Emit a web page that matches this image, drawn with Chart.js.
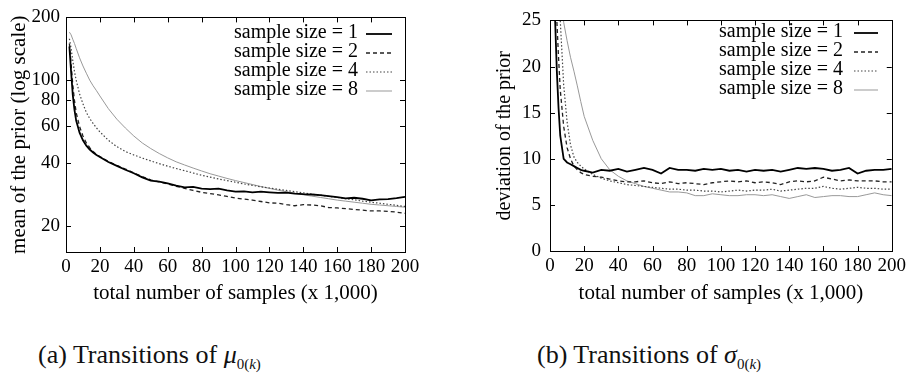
<!DOCTYPE html>
<html>
<head>
<meta charset="utf-8">
<script src="https://cdn.jsdelivr.net/npm/chart.js@4"></script>
<style>
  body { margin:0; background:#fff; width:910px; height:391px; overflow:hidden; position:relative; font-family:"Liberation Serif","Times New Roman","DejaVu Serif",serif; }
  canvas { position:absolute; top:0; }
  #cMean { left:0; }
  #cDev { left:450px; }
  .cap { position:absolute; top:340px; font-size:26px; color:#111; white-space:nowrap; font-family:"Liberation Serif","Times New Roman","DejaVu Serif",serif; }
  .cap sub { font-size:15px; vertical-align:-6px; }
</style>
</head>
<body>
<canvas id="cMean" width="430" height="310"></canvas>
<canvas id="cDev" width="460" height="310"></canvas>
<div class="cap" style="left:38px">(a) Transitions of <i>μ</i><sub>0(<i>k</i>)</sub></div>
<div class="cap" style="left:537px">(b) Transitions of <i>σ</i><sub>0(<i>k</i>)</sub></div>
<script>
// total number of samples (x 1,000)
const samples = [2,3,4,5,6,8,10,12,14,16,18,20,25,30,35,40,45,50,55,60,65,70,75,80,85,90,95,100,105,110,115,120,125,130,135,140,145,150,155,160,165,170,175,180,185,190,195,200];
const sizeLabels = ['sample size = 1','sample size = 2','sample size = 4','sample size = 8'];

// (a) mean of the prior, log scale
const mean1 = [145,110,85,72,64,56,51.5,48.5,46.5,45,43.8,42.8, 40.5,38.8,37.2,35.8,34.2,33,32.6,32,31.2,30.6,30.8,30.2, 30,30.2,29.6,29.2,29.3,29,29.2,29,28.8,28.9,28.6,28.4, 28.3,28.1,27.8,27.5,27.1,27.3,27,26.5,26.8,26.9,27.2,27.6];
const mean2 = [150,120,95,80,70,60,54,50,47.5,45.5,44,43, 40.8,39,37.5,35.9,34.5,33.3,32.5,31.8,31,30.3,29.6,29, 28.6,28.2,27.7,27.2,26.9,26.6,26.2,25.8,25.7,25.3,25,25.3, 25.2,25,24.5,24.4,24.2,24,23.8,23.6,23.6,23.5,23.3,23.0];
const mean4 = [158,142,124,110,100,86,77,70,65.5,62,59,56.5, 51.5,48,45.5,43.8,42.3,41,39.8,38.7,37.7,36.8,35.9,35, 34.3,33.6,33,32.4,31.8,31.3,30.8,30.4,30,29.6,29.2,28.8, 28.4,28.1,27.7,27.4,27,26.7,26.3,26,25.7,25.4,25.1,24.8];
const mean8 = [170,165,157,150,142,128,117,108,100,94,89,84, 73,65,59,54,50,47,44.5,42.4,40.6,39.2,37.9,36.7, 35.6,34.7,33.8,33,32.3,31.6,30.9,30.3,29.7,29.2,28.7,28.2, 27.8,27.4,27,26.6,26.3,26,25.7,25.4,25.2,25,24.8,24.6];
const meanTicks = [20,40,60,80,100,200];

// (b) deviation of the prior
const dev1 = [32,25,19.5,15.5,12.5,10.0,9.6,9.4,9.2,9.0,8.8,8.7, 8.5,8.8,8.7,8.9,8.6,8.8,9.0,8.8,8.4,9.0,8.8,8.8, 8.7,8.9,8.8,8.9,8.7,8.8,8.6,8.8,8.7,8.8,8.6,8.8, 9.0,8.9,9.0,8.9,8.7,8.8,9.0,8.4,8.7,8.8,8.8,8.9];
const dev2 = [40,31,25,21,17.5,13.5,11.2,10.0,9.2,8.8,8.5,8.3, 8.1,8.0,7.8,7.6,7.5,7.5,7.6,7.4,7.3,7.5,7.3,7.4, 7.3,7.2,7.4,7.5,7.6,7.5,7.6,7.4,7.5,7.4,7.2,7.5, 7.6,7.5,7.6,8.0,7.8,7.6,7.7,7.6,7.6,7.6,7.5,7.5];
const dev4 = [50,40,33,29,25,18,14,11.5,10.2,9.6,9.2,8.9, 8.3,7.9,7.6,7.4,7.2,7.1,7.0,6.9,6.8,6.7,6.7,6.6, 6.6,6.5,6.5,6.4,6.5,6.6,6.5,6.6,6.6,6.7,6.5,6.6, 6.7,6.8,6.8,7.0,6.8,6.7,6.8,6.9,6.8,6.8,6.7,6.7];
const dev8 = [60,50,42,35,30,24.8,22.8,21,19.5,17.9,16.2,14.6, 12,10,8.8,8.1,7.6,7.3,7.0,6.8,6.6,6.4,6.4,6.3, 6.0,6.0,6.2,6.1,6.0,6.0,6.1,6.1,6.0,6.1,5.9,5.7, 5.9,6.1,5.8,5.9,6.0,6.0,5.9,5.9,6.1,6.3,6.1,6.0];

const SERIF = '"Liberation Serif", "Times New Roman", "DejaVu Serif", serif';
Chart.defaults.font.family = SERIF;
Chart.defaults.color = '#000';

const styles = [
  { borderColor:'#000', borderWidth:1.8, borderDash:[] },
  { borderColor:'#222', borderWidth:1.3, borderDash:[4,3] },
  { borderColor:'#444', borderWidth:1.2, borderDash:[1.5,2] },
  { borderColor:'#999', borderWidth:1, borderDash:[] }
];

function sets(series){
  return series.map((s,i) => ({
    label: sizeLabels[i],
    data: s,
    ...styles[i],
    pointRadius: 0,
    tension: 0,
    fill: false
  }));
}

// gnuplot-ish box, inner mirrored ticks and the key inside the plot
const frame = {
  id: 'frame',
  afterDraw(chart, args, o){
    const { ctx, chartArea: a, scales: { x, y } } = chart;
    ctx.save();
    ctx.strokeStyle = '#000';
    ctx.lineWidth = 1;
    ctx.setLineDash([]);
    ctx.strokeRect(Math.round(a.left)+0.5, Math.round(a.top)+0.5, Math.round(a.right-a.left), Math.round(a.bottom-a.top));
    ctx.beginPath();
    x.ticks.forEach(t => {
      const px = Math.round(x.getPixelForValue(t.value)) + 0.5;
      ctx.moveTo(px, a.bottom); ctx.lineTo(px, a.bottom - 5);
      ctx.moveTo(px, a.top); ctx.lineTo(px, a.top + 5);
    });
    y.ticks.forEach(t => {
      const py = Math.round(y.getPixelForValue(t.value)) + 0.5;
      ctx.moveTo(a.left, py); ctx.lineTo(a.left + 5, py);
      ctx.moveTo(a.right, py); ctx.lineTo(a.right - 5, py);
    });
    ctx.stroke();

    // key
    ctx.font = '20px ' + SERIF;
    ctx.textAlign = 'right';
    ctx.textBaseline = 'middle';
    ctx.fillStyle = '#000';
    chart.data.datasets.forEach((d, i) => {
      const yy = o.top + i * o.step;
      ctx.fillText(d.label, o.textRight, yy);
      ctx.beginPath();
      ctx.strokeStyle = d.borderColor;
      ctx.lineWidth = d.borderWidth;
      ctx.setLineDash(d.borderDash);
      ctx.moveTo(o.x1, yy + 1);
      ctx.lineTo(o.x2, yy + 1);
      ctx.stroke();
    });
    ctx.restore();
  }
};

const xAxis = (h) => ({
  type: 'linear', min: 0, max: 200,
  grid: { display: false, drawTicks: false },
  border: { display: false },
  ticks: { stepSize: 20, autoSkip: false, maxRotation: 0, padding: 4, font: { size: 19 } },
  title: { display: true, text: 'total number of samples (x 1,000)', font: { size: 21 }, padding: { top: 0, bottom: 4 } },
  afterFit: s => { s.height = h; }
});

new Chart(document.getElementById('cMean'), {
  type: 'line',
  data: { labels: samples, datasets: sets([mean1, mean2, mean4, mean8]) },
  options: {
    responsive: false, animation: false,
    layout: { padding: { top: 16, right: 25, left: 0, bottom: 0 } },
    plugins: {
      legend: { display: false }, tooltip: { enabled: false },
      frame: { textRight: 358, x1: 366, x2: 392, top: 33, step: 19 }
    },
    scales: {
      x: xAxis(58),
      y: {
        type: 'logarithmic', min: 15, max: 200,
        grid: { display: false, drawTicks: false },
        border: { display: false },
        afterBuildTicks: s => { s.ticks = meanTicks.map(v => ({ value: v })); },
        ticks: { padding: 6, font: { size: 19 }, callback: v => String(v) },
        title: { display: true, text: 'mean of the prior (log scale)', font: { size: 21 }, padding: { top: 7, bottom: 0 } },
        afterFit: s => { s.width = 66; }
      }
    }
  },
  plugins: [frame]
});

new Chart(document.getElementById('cDev'), {
  type: 'line',
  data: { labels: samples, datasets: sets([dev1, dev2, dev4, dev8]) },
  options: {
    responsive: false, animation: false,
    layout: { padding: { top: 15, right: 18, left: 0, bottom: 0 } },
    plugins: {
      legend: { display: false }, tooltip: { enabled: false },
      frame: { textRight: 393, x1: 404, x2: 428, top: 32, step: 19 }
    },
    scales: {
      x: xAxis(59),
      y: {
        type: 'linear', min: 0, max: 25,
        grid: { display: false, drawTicks: false },
        border: { display: false },
        ticks: { stepSize: 5, padding: 9, font: { size: 19 } },
        title: { display: true, text: 'deviation of the prior', font: { size: 20 }, padding: { top: 43, bottom: 0 } },
        afterFit: s => { s.width = 100; }
      }
    }
  },
  plugins: [frame]
});
</script>
</body>
</html>
